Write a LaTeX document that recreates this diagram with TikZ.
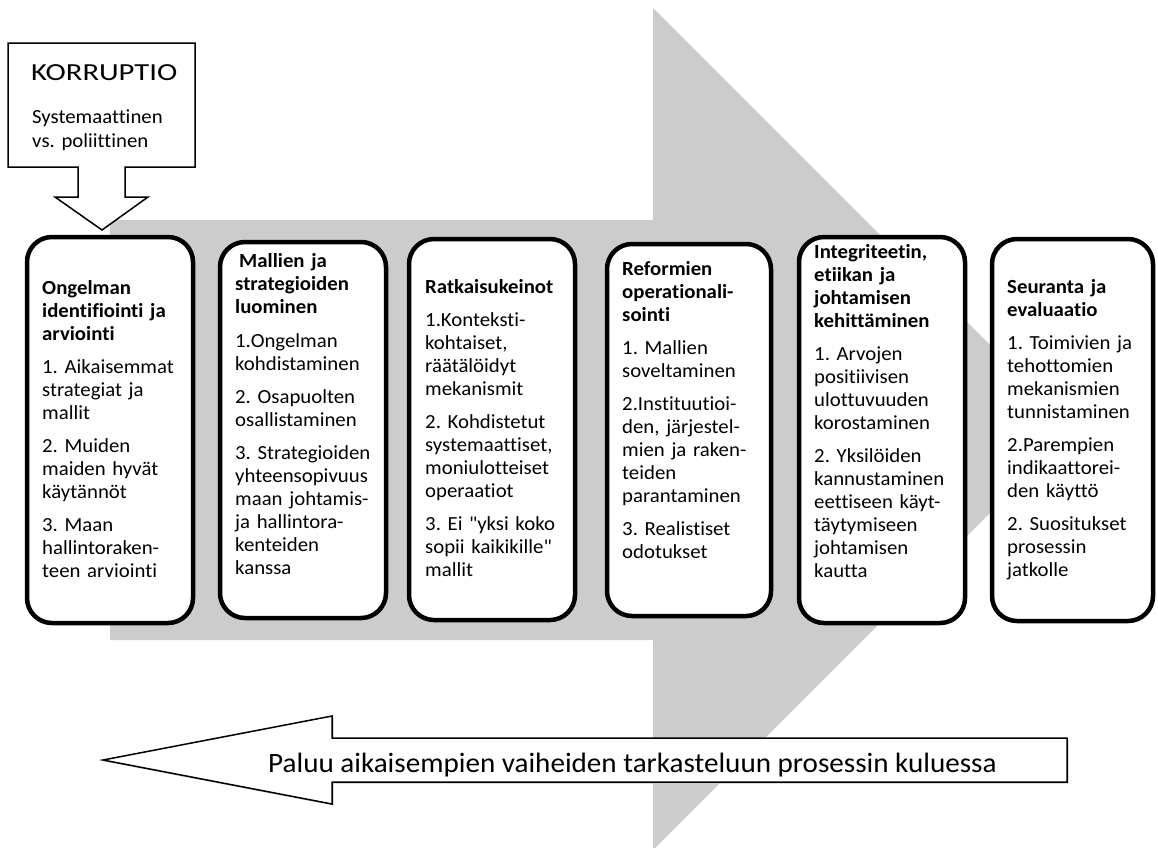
\documentclass[tikz,border=0pt]{standalone}
\usepackage{fontspec}
\setmainfont{Carlito}[FakeStretch=1.04,Ligatures={NoCommon}]
\definecolor{arrowgray}{HTML}{CCCCCC}
\newcommand\straightquote{\XeTeXglyph\XeTeXcharglyph"22\relax}
\frenchspacing
\begin{document}
\begin{tikzpicture}[x=1pt,y=-1pt,
  stagebox/.style={draw=black,line width=4.5pt,rounded corners=25pt,fill=white},
  stagetext/.style={anchor=base west,inner sep=0pt,text width=170pt,align=left,
    font=\fontsize{20}{23}\selectfont\frenchspacing},
  outline/.style={draw=black,line width=1.5pt,fill=white,line join=miter}]
\useasboundingbox (0,0) rectangle (1158,847);
\clip (0,0) rectangle (1158,847);
% big gray arrow
\fill[arrowgray] (110,220) -- (653,220) -- (653,8) -- (1074,429) -- (653,850) -- (653,640) -- (110,640) -- cycle;
% callout
\draw[outline] (8,43) -- (195,43) -- (195,167) -- (125,167) -- (125,197) -- (148,197) -- (102,230) -- (55,197) -- (78,197) -- (78,167) -- (8,167) -- cycle;
\node[anchor=base west,inner sep=0pt,font=\fontsize{24.5}{30}\selectfont] (kor) at (31,80) {\scalebox{1.2}[1]{KORRUPTIO}};
\node[anchor=base west,inner sep=0pt,text width=160pt,align=left,font=\fontsize{20}{24}\selectfont\frenchspacing] (korsub) at (32,123) {Systemaattinen\\vs. poliittinen};
% stage boxes
\draw[stagebox] (27,237) rectangle (193,623);
\draw[stagebox] (220,242) rectangle (386,618);
\draw[stagebox] (409,239) rectangle (575,620);
\draw[stagebox] (607,244) rectangle (771,616);
\draw[stagebox] (799,237) rectangle (965,623);
\draw[stagebox] (992,239) rectangle (1153,621);
% texts
\node[stagetext] (t1) at (42,294) {\textbf{Ongelman}\\\textbf{identifiointi ja}\\\textbf{arviointi}\\[10pt]
1. Aikaisemmat\\strategiat ja\\mallit\\[10pt]
2. Muiden\\maiden hyvät\\käytännöt\\[10pt]
3. Maan\\hallintoraken-\\teen arviointi};
\node[stagetext] (t2) at (235,267) {\hspace*{4pt}\textbf{Mallien ja}\\\textbf{strategioiden}\\\textbf{luominen}\\[11pt]
1.Ongelman\\kohdistaminen\\[10pt]
2. Osapuolten\\osallistaminen\\[10pt]
3. Strategioiden\\yhteensopivuus\\maan johtamis-\\ja hallintora-\\kenteiden\\kanssa};
\node[stagetext] (t3) at (425,293) {\textbf{Ratkaisukeinot}\\[10pt]
1.Konteksti-\\kohtaiset,\\räätälöidyt\\mekanismit\\[10pt]
2. Kohdistetut\\systemaattiset,\\moniulotteiset\\operaatiot\\[10pt]
3. Ei \straightquote yksi koko\\sopii kaikikille\straightquote\\mallit};
\node[stagetext] (t4) at (622,275) {\textbf{Reformien}\\\textbf{operationali-}\\\textbf{sointi}\\[10pt]
1. Mallien\\soveltaminen\\[10pt]
2.Instituutioi-\\den, järjestel-\\mien ja raken-\\teiden\\parantaminen\\[10pt]
3. Realistiset\\odotukset};
\node[stagetext] (t5) at (814,258) {\textbf{Integriteetin,}\\\textbf{etiikan ja}\\\textbf{johtamisen}\\\textbf{kehittäminen}\\[10pt]
1. Arvojen\\positiivisen\\ulottuvuuden\\korostaminen\\[10pt]
2. Yksilöiden\\kannustaminen\\eettiseen käyt-\\täytymiseen\\johtamisen\\kautta};
\node[stagetext] (t6) at (1007,293) {\textbf{Seuranta ja}\\\textbf{evaluaatio}\\[10pt]
1. Toimivien ja\\tehottomien\\mekanismien\\tunnistaminen\\[10pt]
2.Parempien\\indikaattorei-\\den käyttö\\[10pt]
2. Suositukset\\prosessin\\jatkolle};
% return arrow
\fill[black!22] (104.5,761.5) -- (333.5,717.5) -- (333.5,739.5) -- (1068.5,739.5) -- (1068.5,783.5) -- (333.5,783.5) -- (333.5,805.5) -- cycle;
\draw[outline] (103,760) -- (332,716) -- (332,738) -- (1067,738) -- (1067,782) -- (332,782) -- (332,804) -- cycle;
\node[anchor=base west,inner sep=0pt,font=\fontsize{28}{30}\selectfont] (ret) at (268,772) {Paluu aikaisempien vaiheiden tarkasteluun prosessin kuluessa};
\end{tikzpicture}
\end{document}
